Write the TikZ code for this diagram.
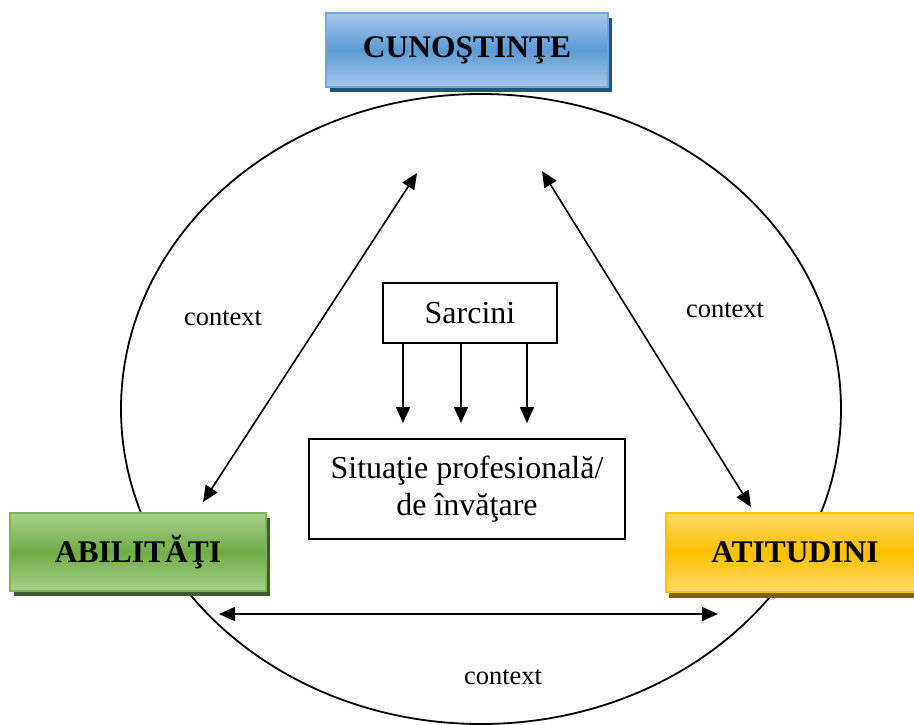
\documentclass[tikz,border=0pt]{standalone}
\usepackage{fontspec}
\setmainfont{Liberation Serif}
\usetikzlibrary{arrows.meta,shadows}
\definecolor{bluetop}{HTML}{A9C7EA}
\definecolor{bluemid}{HTML}{5B9BD5}
\definecolor{blueedge}{HTML}{6FA8DC}
\definecolor{blueshadow}{HTML}{24527F}
\definecolor{greentop}{HTML}{A9D18E}
\definecolor{greenmid}{HTML}{6FAC46}
\definecolor{greenedge}{HTML}{7DB552}
\definecolor{greenshadow}{HTML}{3D5E2A}
\definecolor{yellowtop}{HTML}{FFD966}
\definecolor{yellowmid}{HTML}{FFC000}
\definecolor{yellowedge}{HTML}{FFC000}
\definecolor{yellowshadow}{HTML}{7F6000}
\begin{document}
\begin{tikzpicture}[x=1pt,y=-1pt,
  colbox/.style={rectangle, inner sep=0pt, line width=2pt,
    font=\fontsize{31.5}{36}\selectfont\bfseries},
  bluebox/.style={colbox, draw=blueedge, top color=bluetop, bottom color=bluetop, middle color=bluemid,
    drop shadow={shadow xshift=4pt, shadow yshift=-5pt, fill=blueshadow, opacity=1}},
  greenbox/.style={colbox, draw=greenedge, top color=greentop, bottom color=greentop, middle color=greenmid,
    drop shadow={shadow xshift=4pt, shadow yshift=-5pt, fill=greenshadow, opacity=1}},
  yellowbox/.style={colbox, draw=yellowedge, top color=yellowtop, bottom color=yellowtop, middle color=yellowmid,
    drop shadow={shadow xshift=3pt, shadow yshift=-6pt, fill=yellowshadow, opacity=1}},
  plainbox/.style={rectangle, draw, line width=1.4pt, inner sep=0pt, align=center,
    font=\fontsize{32}{37}\selectfont},
  ctx/.style={font=\fontsize{26.5}{30}\selectfont},
  onearrow/.style={line width=1.6pt, -{Triangle[length=16pt,width=14pt]}},
  twoarrow/.style={line width=1.6pt, {Triangle[length=16pt,width=14pt]}-{Triangle[length=16pt,width=14pt]}}
]
\useasboundingbox (0,0) rectangle (914,724);
\clip (0,0) rectangle (914,724);

% ellipse
\draw[line width=1.8pt] (481,409) ellipse [x radius=360pt, y radius=315pt];

% coloured boxes
\node[bluebox, minimum width=282pt, minimum height=74pt] (cuno) at (467,50) {CUNOŞTINŢE};
\node[greenbox, minimum width=256pt, minimum height=78pt] (abil) at (138,552) {ABILITĂŢI};
\node[yellowbox, minimum width=258pt, minimum height=79pt] (atit) at (795,552.5) {ATITUDINI};

% centre boxes
\node[plainbox, minimum width=174pt, minimum height=60pt] (sarc) at (470,313) {Sarcini};
\node[plainbox, minimum width=316pt, minimum height=100pt] (sit) at (467,489)
  {Situaţie profesională/\\de învăţare};

% arrows from Sarcini
\coordinate (e1) at (403,423);
\coordinate (e2) at (461,423);
\coordinate (e3) at (527,423);
\draw[onearrow] (sarc.south -| e1) -- (e1);
\draw[onearrow] (sarc.south -| e2) -- (e2);
\draw[onearrow] (sarc.south -| e3) -- (e3);

% double arrows
\coordinate (kL) at (417,173);
\coordinate (aL) at (203,502);
\coordinate (kR) at (542,171);
\coordinate (tR) at (751,507);
\coordinate (aB) at (219,614);
\coordinate (tB) at (718,614);
\draw[twoarrow] (kL) -- (aL);
\draw[twoarrow] (kR) -- (tR);
\draw[twoarrow] (aB) -- (tB);

% context labels
\node[ctx] (c1) at (223,318) {context};
\node[ctx] (c2) at (725,310) {context};
\node[ctx] (c3) at (503,677) {context};
\end{tikzpicture}
\end{document}
